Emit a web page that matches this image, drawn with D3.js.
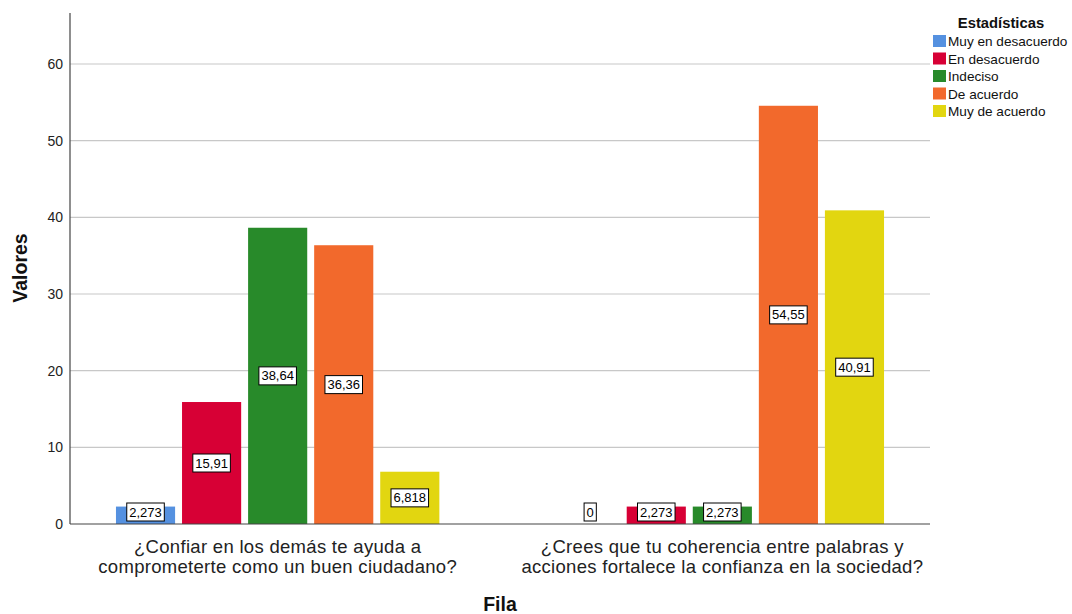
<!DOCTYPE html>
<html><head><meta charset="utf-8">
<script src="https://cdn.jsdelivr.net/npm/d3@7"></script>
<style>body{margin:0;background:#fff;font-family:"Liberation Sans",Arial,sans-serif;}</style>
</head><body><svg id="c" width="1072" height="614"></svg>
<script>
const categories = [
  ["¿Confiar en los demás te ayuda a", "comprometerte como un buen ciudadano?"],
  ["¿Crees que tu coherencia entre palabras y", "acciones fortalece la confianza en la sociedad?"]
];
const seriesNames = ["Muy en desacuerdo","En desacuerdo","Indeciso","De acuerdo","Muy de acuerdo"];
const seriesColors = ["#5591E0","#D70035","#288A2A","#F2692C","#E2D610"];
const values = [
  [2.273, 15.91, 38.64, 36.36, 6.818],
  [0, 2.273, 2.273, 54.55, 40.91]
];
const valueLabels = [
  ["2,273","15,91","38,64","36,36","6,818"],
  ["0","2,273","2,273","54,55","40,91"]
];
const yTicks = [0,10,20,30,40,50,60];

const svg = d3.select("#c");
const L = 70, R = 930, T = 13, B = 524;
const y = d3.scaleLinear().domain([0, 66.65]).range([B, T]);
const x = d3.scalePoint().domain([0,1]).range([L, R]).padding(0.467);
const inner = d3.scaleBand().domain(d3.range(5)).range([-165, 165]).paddingInner(0.105).paddingOuter(0.05);

// gridlines
svg.append("g").selectAll("line").data(yTicks.filter(d=>d>0)).join("line")
  .attr("x1", L).attr("x2", R).attr("y1", d=>y(d)).attr("y2", d=>y(d))
  .attr("stroke", "#c8c8c8").attr("stroke-width", 1.2);

// y axis
const ya = svg.append("g").attr("transform", `translate(${L},0)`)
  .call(d3.axisLeft(y).tickValues(yTicks).tickSize(0).tickPadding(7).tickFormat(d3.format("d")));
ya.select(".domain").remove();
ya.selectAll("text").attr("font-size", 14).attr("fill", "#222").attr("font-family", "Liberation Sans, Arial, sans-serif");
svg.append("line").attr("x1", L).attr("x2", L).attr("y1", T).attr("y2", B).attr("stroke", "#444").attr("stroke-width", 1.2);

// bars
const groups = svg.append("g").selectAll("g").data(values).join("g")
  .attr("transform", (d,i)=>`translate(${x(i)},0)`);
groups.selectAll("rect").data(d=>d).join("rect")
  .attr("x", (d,j)=>inner(j)).attr("width", inner.bandwidth())
  .attr("y", d=>y(d)).attr("height", d=>B - y(d))
  .attr("fill", (d,j)=>seriesColors[j]);

// x axis line
svg.append("line").attr("x1", L).attr("x2", R).attr("y1", B).attr("y2", B).attr("stroke", "#444").attr("stroke-width", 1.2);

// value labels
groups.each(function(vals, i){
  const g = d3.select(this);
  vals.forEach((v, j) => {
    const cx = inner(j) + inner.bandwidth()/2;
    const cy = Math.min((y(v) + B)/2, B - 12);
    const t = g.append("text").attr("x", cx).attr("y", cy).attr("text-anchor","middle")
      .attr("dominant-baseline","central").attr("font-size", 13).attr("fill","#000")
      .text(valueLabels[i][j]);
    const bb = t.node().getBBox();
    g.insert("rect", "text").attr("x", bb.x - 2.5).attr("y", cy - 9).attr("width", bb.width + 5).attr("height", 18)
      .attr("fill","#fff").attr("stroke","#000").attr("stroke-width",1);
    t.raise();
  });
});

// category labels
categories.forEach((lines, i) => {
  const t = svg.append("text").attr("x", x(i)).attr("y", 553).attr("text-anchor","middle")
    .attr("font-size", 18.5).attr("letter-spacing", 0.3).attr("fill","#222");
  lines.forEach((ln, k) => t.append("tspan").attr("x", x(i)).attr("dy", k===0?0:20).text(ln));
});

// axis titles
svg.append("text").attr("x", 500).attr("y", 611).attr("text-anchor","middle")
  .attr("font-size", 19.5).attr("font-weight","bold").attr("fill","#111").text("Fila");
svg.append("text").attr("transform","translate(27,268) rotate(-90)").attr("text-anchor","middle")
  .attr("font-size", 19.5).attr("font-weight","bold").attr("fill","#111").text("Valores");

// legend
svg.append("text").attr("x", 1001).attr("y", 28).attr("text-anchor","middle")
  .attr("font-size", 14.8).attr("font-weight","bold").attr("fill","#111").text("Estadísticas");
const lg = svg.append("g").selectAll("g").data(seriesNames).join("g")
  .attr("transform", (d,i)=>`translate(933,${35 + i*17.5})`);
lg.append("rect").attr("width", 13).attr("height", 12).attr("fill", (d,i)=>seriesColors[i]);
lg.append("text").attr("x", 15).attr("y", 6.5).attr("dominant-baseline","central")
  .attr("font-size", 13.6).attr("fill","#111").text(d=>d);
</script></body></html>
